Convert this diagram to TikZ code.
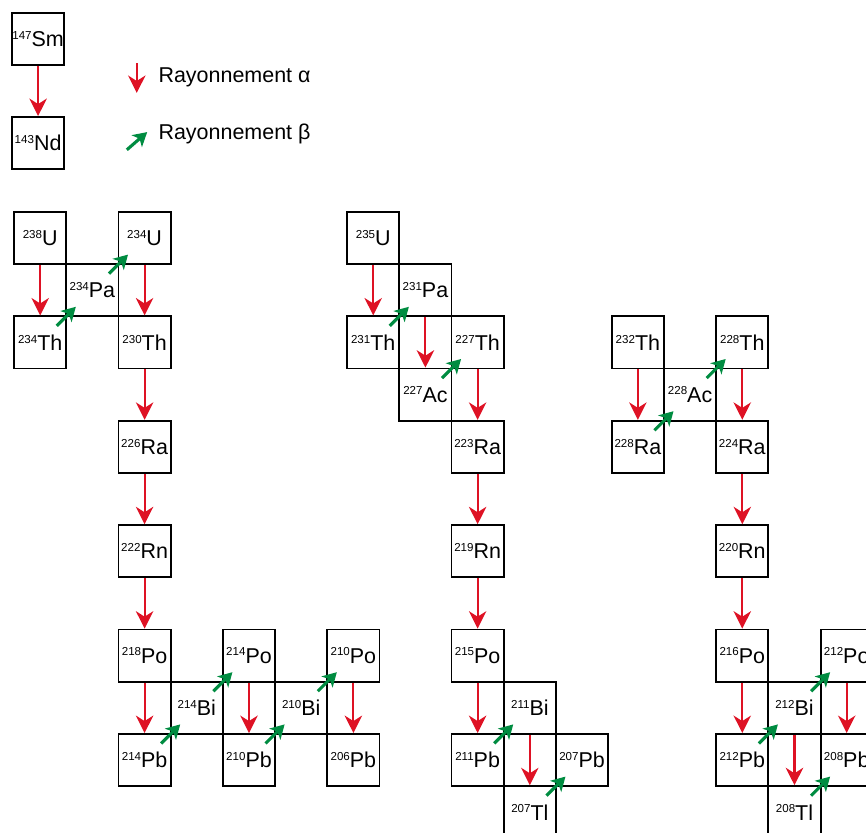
\documentclass[tikz,border=0pt]{standalone}
\usepackage{fontspec}
\setmainfont{Liberation Sans}
\usepackage{xcolor}
\usepackage{tikz}
\usetikzlibrary{arrows.meta}
\definecolor{alphared}{RGB}{222,18,36}
\definecolor{betagreen}{RGB}{0,140,65}
\newcommand{\isot}[2]{\raisebox{3.9pt}{\fontsize{6.3}{7}\selectfont #1}#2}

\begin{document}
\begin{tikzpicture}
  [
    cell/.style={
       draw=black,
       line width=1pt,
       minimum size=1cm,
       inner sep=0pt,
       font=\fontsize{11.7}{13}\selectfont
    },
    legtext/.style={
       anchor=base west,
       inner sep=0pt,
       font=\fontsize{11.7}{13}\selectfont
    },
    adecay/.style={
       draw=alphared,
       line width=1.1pt,
       -{Stealth[length=9.5pt,width=9.5pt,inset=3pt]}
    },
    bdecay/.style={
       draw=betagreen,
       line width=1.7pt,
       -{Stealth[length=7.5pt,width=8.5pt,inset=2pt]}
    }
  ]
  \useasboundingbox (0,0) rectangle (16.59,-15.94);
  \clip (0,0) rectangle (16.59,-15.94);

  % legend
  \node (sm147) at ( 0.73,-0.75) [cell] {\isot{147}{Sm}};
  \node (nd143) at ( 0.73,-2.74) [cell] {\isot{143}{Nd}};
  \draw [adecay] (sm147.south) -- (nd143.north);

  \coordinate (aTail) at (2.62,-1.21);
  \coordinate (aHead) at (2.62,-1.78);
  \coordinate (bTail) at (2.43,-2.87);
  \coordinate (bHead) at (2.82,-2.53);
  \draw [adecay] (aTail) -- (aHead);
  \draw [bdecay] (bTail) -- (bHead);
  \node (legA) at (3.03,-1.59) [legtext] {Rayonnement α};
  \node (legB) at (3.03,-2.68) [legtext] {Rayonnement β};

  % 238U chain
  \node (u238)  at ( 0.77, -4.56) [cell] {\isot{238}{U}};
  \node (pa234) at ( 1.77, -5.56) [cell] {\isot{234}{Pa}};
  \node (u234)  at ( 2.77, -4.56) [cell] {\isot{234}{U}};
  \node (th234) at ( 0.77, -6.56) [cell] {\isot{234}{Th}};
  \node (th230) at ( 2.77, -6.56) [cell] {\isot{230}{Th}};
  \node (ra226) at ( 2.77, -8.56) [cell] {\isot{226}{Ra}};
  \node (rn222) at ( 2.77,-10.56) [cell] {\isot{222}{Rn}};
  \node (po218) at ( 2.77,-12.56) [cell] {\isot{218}{Po}};
  \node (pb214) at ( 2.77,-14.56) [cell] {\isot{214}{Pb}};
  \node (bi214) at ( 3.77,-13.56) [cell] {\isot{214}{Bi}};
  \node (po214) at ( 4.77,-12.56) [cell] {\isot{214}{Po}};
  \node (pb210) at ( 4.77,-14.56) [cell] {\isot{210}{Pb}};
  \node (bi210) at ( 5.77,-13.56) [cell] {\isot{210}{Bi}};
  \node (po210) at ( 6.77,-12.56) [cell] {\isot{210}{Po}};
  \node (pb206) at ( 6.77,-14.56) [cell] {\isot{206}{Pb}};

  \draw [adecay] (u238.south)  -- (th234.north);
  \draw [bdecay] ([shift={(-0.2,-0.2)}]th234.north east) -- ([shift={(0.2,0.2)}]pa234.south west);
  \draw [bdecay] ([shift={(-0.2,-0.2)}]pa234.north east) -- ([shift={(0.2,0.2)}]u234.south west);
  \draw [adecay] (u234.south)  -- (th230.north);
  \draw [adecay] (th230.south) -- (ra226.north);
  \draw [adecay] (ra226.south) -- (rn222.north);
  \draw [adecay] (rn222.south) -- (po218.north);
  \draw [adecay] (po218.south) -- (pb214.north);
  \draw [bdecay] ([shift={(-0.2,-0.2)}]pb214.north east) -- ([shift={(0.2,0.2)}]bi214.south west);
  \draw [bdecay] ([shift={(-0.2,-0.2)}]bi214.north east) -- ([shift={(0.2,0.2)}]po214.south west);
  \draw [adecay] (po214.south) -- (pb210.north);
  \draw [bdecay] ([shift={(-0.2,-0.2)}]pb210.north east) -- ([shift={(0.2,0.2)}]bi210.south west);
  \draw [bdecay] ([shift={(-0.2,-0.2)}]bi210.north east) -- ([shift={(0.2,0.2)}]po210.south west);
  \draw [adecay] (po210.south) -- (pb206.north);

  % 235U chain
  \node (u235)  at ( 7.15, -4.56) [cell] {\isot{235}{U}};
  \node (pa231) at ( 8.15, -5.56) [cell] {\isot{231}{Pa}};
  \node (th231) at ( 7.15, -6.56) [cell] {\isot{231}{Th}};
  \node (ac227) at ( 8.15, -7.56) [cell] {\isot{227}{Ac}};
  \node (th227) at ( 9.15, -6.56) [cell] {\isot{227}{Th}};
  \node (ra223) at ( 9.15, -8.56) [cell] {\isot{223}{Ra}};
  \node (rn219) at ( 9.15,-10.56) [cell] {\isot{219}{Rn}};
  \node (po215) at ( 9.15,-12.56) [cell] {\isot{215}{Po}};
  \node (pb211) at ( 9.15,-14.56) [cell] {\isot{211}{Pb}};
  \node (bi211) at (10.15,-13.56) [cell] {\isot{211}{Bi}};
  \node (tl207) at (10.15,-15.56) [cell] {\isot{207}{Tl}};
  \node (pb207) at (11.15,-14.56) [cell] {\isot{207}{Pb}};

  \draw [adecay] (u235.south)  -- (th231.north);
  \draw [bdecay] ([shift={(-0.2,-0.2)}]th231.north east) -- ([shift={(0.2,0.2)}]pa231.south west);
  \draw [adecay] (pa231.south) -- (ac227.north);
  \draw [bdecay] ([shift={(-0.2,-0.2)}]ac227.north east) -- ([shift={(0.2,0.2)}]th227.south west);
  \draw [adecay] (th227.south) -- (ra223.north);
  \draw [adecay] (ra223.south) -- (rn219.north);
  \draw [adecay] (rn219.south) -- (po215.north);
  \draw [adecay] (po215.south) -- (pb211.north);
  \draw [bdecay] ([shift={(-0.2,-0.2)}]pb211.north east) -- ([shift={(0.2,0.2)}]bi211.south west);
  \draw [adecay] (bi211.south) -- (tl207.north);
  \draw [bdecay] ([shift={(-0.2,-0.2)}]tl207.north east) -- ([shift={(0.2,0.2)}]pb207.south west);

  % 232Th chain
  \node (th232) at (12.22, -6.56) [cell] {\isot{232}{Th}};
  \node (ra228) at (12.22, -8.56) [cell] {\isot{228}{Ra}};
  \node (ac228) at (13.22, -7.56) [cell] {\isot{228}{Ac}};
  \node (th228) at (14.22, -6.56) [cell] {\isot{228}{Th}};
  \node (ra224) at (14.22, -8.56) [cell] {\isot{224}{Ra}};
  \node (rn220) at (14.22,-10.56) [cell] {\isot{220}{Rn}};
  \node (po216) at (14.22,-12.56) [cell] {\isot{216}{Po}};
  \node (pb212) at (14.22,-14.56) [cell] {\isot{212}{Pb}};
  \node (bi212) at (15.22,-13.56) [cell] {\isot{212}{Bi}};
  \node (tl208) at (15.22,-15.56) [cell] {\isot{208}{Tl}};
  \node (po212) at (16.22,-12.56) [cell] {\isot{212}{Po}};
  \node (pb208) at (16.22,-14.56) [cell] {\isot{208}{Pb}};

  \draw [adecay] (th232.south) -- (ra228.north);
  \draw [bdecay] ([shift={(-0.2,-0.2)}]ra228.north east) -- ([shift={(0.2,0.2)}]ac228.south west);
  \draw [bdecay] ([shift={(-0.2,-0.2)}]ac228.north east) -- ([shift={(0.2,0.2)}]th228.south west);
  \draw [adecay] (th228.south) -- (ra224.north);
  \draw [adecay] (ra224.south) -- (rn220.north);
  \draw [adecay] (rn220.south) -- (po216.north);
  \draw [adecay] (po216.south) -- (pb212.north);
  \draw [bdecay] ([shift={(-0.2,-0.2)}]pb212.north east) -- ([shift={(0.2,0.2)}]bi212.south west);
  \draw [bdecay] ([shift={(-0.2,-0.2)}]bi212.north east) -- ([shift={(0.2,0.2)}]po212.south west);
  \draw [adecay] (bi212.south) -- (tl208.north);
  \draw [adecay] (po212.south) -- (pb208.north);
  \draw [bdecay] ([shift={(-0.2,-0.2)}]tl208.north east) -- ([shift={(0.2,0.2)}]pb208.south west);
\end{tikzpicture}
\end{document}
